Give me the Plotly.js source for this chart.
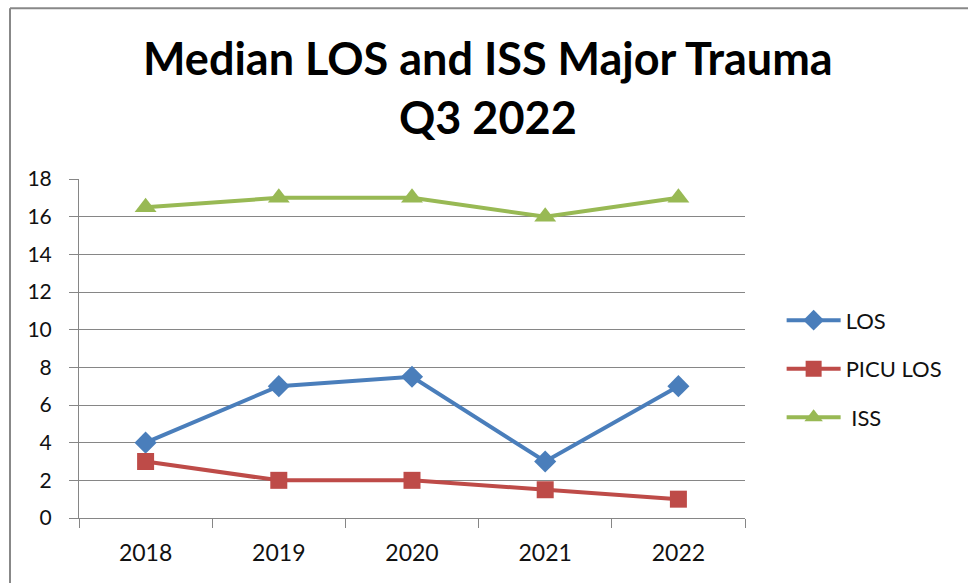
<!DOCTYPE html>
<html>
<head>
<meta charset="utf-8">
<script src="https://cdn.plot.ly/plotly-3.0.1.min.js"></script>
<style>html,body{margin:0;padding:0;background:#fff;}#chart{width:968px;height:583px;}</style>
</head>
<body>
<div id="chart"></div>
<script>
const years = ['2018', '2019', '2020', '2021', '2022'];
const losValues = [4, 7, 7.5, 3, 7];
const picuLosValues = [3, 2, 2, 1.5, 1];
const issValues = [16.5, 17, 17, 16, 17];
const yTicks = [0, 2, 4, 6, 8, 10, 12, 14, 16, 18];

const FONT = 'Lato, "Open Sans", sans-serif';

const traces = [
  {x: years, y: losValues, name: 'LOS', type: 'scatter', mode: 'lines+markers',
   line: {color: '#4A7EBB', width: 4}, marker: {symbol: 'diamond', size: 17, color: '#4A7EBB'}, legendgroup: 'a'},
  {x: years, y: picuLosValues, name: 'PICU LOS', type: 'scatter', mode: 'lines+markers',
   line: {color: '#BE4B48', width: 4}, marker: {symbol: 'square', size: 17, color: '#BE4B48'}, legendgroup: 'b'},
  {x: years, y: issValues, name: ' ISS', type: 'scatter', mode: 'lines+markers',
   line: {color: '#98B954', width: 4}, marker: {symbol: 'triangle-up', size: 19, color: '#98B954'}, legendgroup: 'c'}
];

const layout = {
  width: 968, height: 583,
  margin: {l: 79, r: 223, t: 179, b: 65},
  paper_bgcolor: '#fff', plot_bgcolor: '#fff',
  font: {family: FONT, size: 19, color: '#111'},
  title: {text: '<b>Median LOS and ISS Major Trauma</b><br><b>Q3 2022</b>',
          font: {family: FONT, size: 45, color: '#000'}, x: 0.504, xanchor: 'center', y: 0.871, yanchor: 'middle'},
  xaxis: {type: 'category', range: [-0.5, 4.5], showgrid: false, showline: true, linecolor: '#868686', linewidth: 1,
          ticks: 'outside', tickson: 'boundaries', ticklen: 9, tickcolor: '#868686', tickfont: {size: 23}, zeroline: false,
          ticklabelstandoff: 14},
  yaxis: {range: [0, 18], tickvals: yTicks, showgrid: true, gridcolor: '#868686', gridwidth: 1, showline: true,
          linecolor: '#868686', ticks: 'outside', ticklen: 9, tickcolor: '#868686', zeroline: false, tickfont: {size: 21},
          ticklabelstandoff: 13},
  showlegend: true,
  legend: {x: 1.055, y: 0.645, xanchor: 'left', yanchor: 'top', font: {size: 22}, tracegroupgap: 17, itemwidth: 54,
           bgcolor: 'rgba(0,0,0,0)'},
  shapes: [
    {type: 'line', xref: 'paper', yref: 'paper', x0: -0.1036, x1: 2, y0: 1.504, y1: 1.504, line: {color: '#888', width: 2}},
    {type: 'line', xref: 'paper', yref: 'paper', x0: -0.1036, x1: -0.1036, y0: 1.504, y1: -1, line: {color: '#888', width: 2}}
  ]
};

Plotly.newPlot('chart', traces, layout, {displayModeBar: false, staticPlot: true});
</script>
</body>
</html>
